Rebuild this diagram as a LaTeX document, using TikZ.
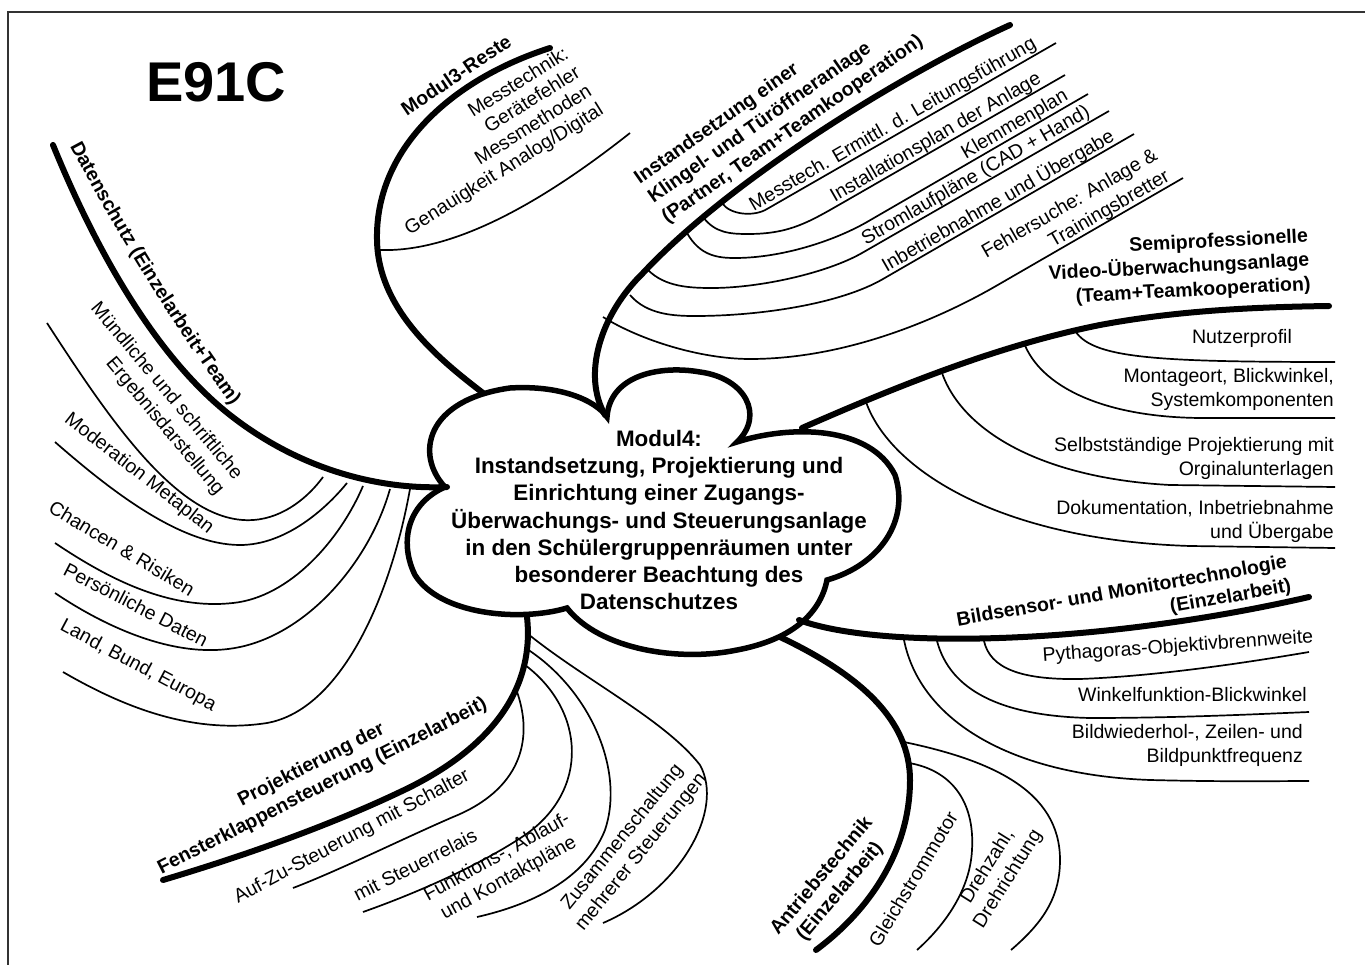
\documentclass[tikz,border=0pt]{standalone}
\usepackage{fontspec}
\setmainfont{Liberation Sans}
\usetikzlibrary{decorations.text}
\begin{document}
\begin{tikzpicture}[x=1pt,y=-1pt,
  branch/.style={line width=6pt,line cap=round},
  twig/.style={line width=1.7pt},
  lab/.style={font=\fontsize{19.5}{24}\selectfont,inner sep=0pt},
  blab/.style={font=\bfseries\fontsize{19.5}{24}\selectfont,inner sep=0pt},
]
\useasboundingbox (0,0) rectangle (1365,965);
\fill[white] (0,0) rectangle (1365,965);
\draw[line width=2.5pt,black!80] (8,975) -- (8,12) -- (1375,12);

% title
\node[font=\bfseries\fontsize{56}{60}\selectfont,inner sep=0pt,anchor=base west] (title) at (146,102) {E91C};

% central cloud
\draw[line width=5.5pt] (445,487) .. controls (415,455) and (425,400) .. (510,388)
  .. controls (560,385) and (595,400) .. (607,417)
  .. controls (610,375) and (660,365) .. (700,372)
  .. controls (745,378) and (765,415) .. (737,442)
  .. controls (790,425) and (870,425) .. (895,475)
  .. controls (910,520) and (880,565) .. (827,580)
  .. controls (820,615) and (790,640) .. (737,650)
  .. controls (680,662) and (600,650) .. (567,608)
  .. controls (520,622) and (440,615) .. (415,575)
  .. controls (400,545) and (405,505) .. (445,487) -- cycle;
\node[font=\bfseries\fontsize{22.4}{27.2}\selectfont,align=center,inner sep=0pt] (core) at (659,520)
 {Modul4:\\Instandsetzung, Projektierung und\\Einrichtung einer Zugangs-\\Überwachungs- und Steuerungsanlage\\in den Schülergruppenräumen unter\\besonderer Beachtung des\\Datenschutzes};

% ---------- Datenschutz
\coordinate (dsRoot) at (447,487);
\coordinate (dsTip) at (53,145);
\draw[branch] (dsTip) .. controls (100,260) and (160,360) .. (230,415) .. controls (300,470) and (380,490) .. (dsRoot);
\path[decorate,decoration={text along path,text align={left indent=0pt},
  text={|\bfseries\fontsize{19.5}{24}\selectfont|Datenschutz (Einzelarbeit+Team)}}]
  (70,146) .. controls (116.9,234.3) and (172.2,324.1) .. (231,405) -- (262,447);
\coordinate (dsa1) at (323,477); \coordinate (dse1) at (47,323);
\coordinate (dsa2) at (347,483); \coordinate (dse2) at (55,442);
\coordinate (dsa3) at (363,486); \coordinate (dse3) at (55,543);
\coordinate (dsa4) at (390,489); \coordinate (dse4) at (55,593);
\coordinate (dsa5) at (410,489); \coordinate (dse5) at (63,672);
\draw[twig] (dse1) .. controls (110,420) and (180,525) .. (253,520) .. controls (285,518) and (310,495) .. (dsa1);
\draw[twig] (dse2) .. controls (110,490) and (180,545) .. (240,545) .. controls (285,545) and (325,510) .. (dsa2);
\draw[twig] (dse3) .. controls (110,580) and (170,610) .. (233,603) .. controls (290,597) and (340,540) .. (dsa3);
\draw[twig] (dse4) .. controls (110,630) and (180,660) .. (240,647) .. controls (310,632) and (370,560) .. (dsa4);
\draw[twig] (dse5) .. controls (120,705) and (190,735) .. (267,723) .. controls (340,710) and (390,600) .. (dsa5);
\node[lab,rotate=-50,align=right] (ds1) at (157,399) {Mündliche und schriftliche\\Ergebnisdarstellung};
\node[lab,rotate=-38] (ds2) at (139,474) {Moderation Metaplan};
\node[lab,rotate=-31] (ds3) at (122,548) {Chancen \& Risiken};
\node[lab,rotate=-27.5] (ds4) at (136,605) {Persönliche Daten};
\node[lab,rotate=-28] (ds5) at (138,666) {Land, Bund, Europa};

% ---------- Modul3-Reste
\coordinate (m3Root) at (483,393);
\coordinate (m3Tip) at (550,48);
\draw[branch] (m3Tip) .. controls (450,80) and (375,150) .. (377,240) .. controls (378,310) and (440,360) .. (m3Root);
\coordinate (m3a) at (380,250); \coordinate (m3e) at (630,133);
\draw[twig] (m3a) .. controls (440,252) and (520,220) .. (m3e);
\node[blab,rotate=34] (m3L) at (456,75) {Modul3-Reste};
\node[lab,rotate=32,align=right,font=\fontsize{19.5}{22}\selectfont] (m3S) at (487,142) {Messtechnik:\\Gerätefehler\\Messmethoden\\Genauigkeit Analog/Digital};

% ---------- Instandsetzung
\coordinate (inRoot) at (605,415);
\coordinate (inTip) at (1010,25);
\draw[branch] (inTip) .. controls (900,75) and (730,180) .. (643,273) .. controls (600,315) and (582,375) .. (inRoot);
\node[blab,rotate=35,align=left] (inL) at (779,110) {Instandsetzung einer\\Klingel- und Türöffneranlage\\(Partner, Team+Teamkooperation)};
\coordinate (ina1) at (722,203); \coordinate (ine1) at (1056,43);
\coordinate (ina2) at (703,217); \coordinate (ine2) at (1065,75);
\coordinate (ina3) at (687,233); \coordinate (ine3) at (1088,94);
\coordinate (ina4) at (648,270); \coordinate (ine4) at (1109,111);
\coordinate (ina5) at (630,295); \coordinate (ine5) at (1134,134);
\coordinate (ina6) at (603,317); \coordinate (ine6) at (1183,178);
\draw[twig] (ina1) .. controls (730,215) and (754,217) .. (767,209) -- (ine1);
\draw[twig] (ina2) .. controls (715,233) and (730,234) .. (748,234) .. controls (790,234) and (809,222) .. (844,202) -- (ine2);
\draw[twig] (ina3) .. controls (700,256) and (718,258) .. (735,258) .. controls (780,258) and (832,242) .. (867,222) -- (ine3);
\draw[twig] (ina4) .. controls (665,287) and (690,288) .. (712,288) .. controls (760,288) and (827,273) .. (862,253) -- (ine4);
\draw[twig] (ina5) .. controls (647,315) and (675,316) .. (695,316) .. controls (760,316) and (840,304) .. (883,279) -- (ine5);
\draw[twig] (ina6) .. controls (640,340) and (700,359) .. (750,359) .. controls (850,359) and (944,316) .. (996,286) -- (ine6);
\node[lab,rotate=30] (in1) at (893,125) {Messtech. Ermittl. d. Leitungsführung};
\node[lab,rotate=30] (in2) at (936,138) {Installationsplan der Anlage};
\node[lab,rotate=30] (in3) at (1015,125) {Klemmenplan};
\node[lab,rotate=30] (in4) at (976,176) {Stromlaufpläne (CAD + Hand)};
\node[lab,rotate=30] (in5) at (998,201) {Inbetriebnahme und Übergabe};
\node[lab,rotate=30,align=right] (in6) at (1076,215) {Fehlersuche: Anlage \&\\Trainingsbretter};

% ---------- Video
\coordinate (vdRoot) at (802,428);
\coordinate (vdTip) at (1329,306);
\draw[branch] (vdRoot) .. controls (900,385) and (1000,345) .. (1100,325) .. controls (1180,310) and (1260,307) .. (vdTip);
\node[blab,rotate=3,align=right] (vdL) at (1179,268) {Semiprofessionelle\\Video-Überwachungsanlage\\(Team+Teamkooperation)};
\coordinate (vda1) at (1074,329); \coordinate (vde1) at (1335,362);
\coordinate (vda2) at (1024,343); \coordinate (vde2) at (1335,418);
\coordinate (vda3) at (941,370); \coordinate (vde3) at (1335,487);
\coordinate (vda4) at (866,402); \coordinate (vde4) at (1335,548);
\draw[twig] (vda1) .. controls (1090,358) and (1150,362) .. (vde1);
\draw[twig] (vda2) .. controls (1040,385) and (1100,417) .. (1200,418) -- (vde2);
\draw[twig] (vda3) .. controls (960,430) and (1040,478) .. (1170,485) -- (vde3);
\draw[twig] (vda4) .. controls (890,470) and (1000,540) .. (1190,546) -- (vde4);
\node[lab] (vd1) at (1242,338) {Nutzerprofil};
\node[lab,anchor=east,align=right] (vd2) at (1334,389) {Montageort, Blickwinkel,\\Systemkomponenten};
\node[lab,anchor=east,align=right] (vd3) at (1334,458) {Selbstständige Projektierung mit\\Orginalunterlagen};
\node[lab,anchor=east,align=right] (vd4) at (1334,521) {Dokumentation, Inbetriebnahme\\und Übergabe};

% ---------- Bildsensor
\coordinate (bsRoot) at (799,620);
\coordinate (bsTip) at (1309,597);
\draw[branch] (bsRoot) .. controls (880,650) and (1100,645) .. (bsTip);
\node[blab,rotate=10,align=right] (bsL) at (1124,604) {Bildsensor- und Monitortechnologie\\(Einzelarbeit)};
\coordinate (bsa1) at (984,641); \coordinate (bse1) at (1309,652);
\coordinate (bsa2) at (937,641); \coordinate (bse2) at (1309,712);
\coordinate (bsa3) at (904,640); \coordinate (bse3) at (1309,781);
\draw[twig] (bsa1) .. controls (990,668) and (1020,680) .. (1080,679) .. controls (1160,676) and (1250,662) .. (bse1);
\draw[twig] (bsa2) .. controls (950,690) and (1000,716) .. (1090,718) .. controls (1180,718) and (1260,714) .. (bse2);
\draw[twig] (bsa3) .. controls (920,720) and (1010,775) .. (1150,780) .. controls (1230,782) and (1280,781) .. (bse3);
\node[lab,rotate=4] (bs1) at (1178,647) {Pythagoras-Objektivbrennweite};
\node[lab,anchor=east] (bs2) at (1307,695) {Winkelfunktion-Blickwinkel};
\node[lab,anchor=east,align=right] (bs3) at (1303,745) {Bildwiederhol-, Zeilen- und\\Bildpunktfrequenz};

% ---------- Antriebstechnik
\coordinate (atRoot) at (780,637);
\coordinate (atTip) at (816,950);
\draw[branch] (atRoot) .. controls (860,675) and (910,720) .. (910,780) .. controls (910,850) and (870,910) .. (atTip);
\node[blab,rotate=50,align=center] (atL) at (831,884) {Antriebstechnik\\(Einzelarbeit)};
\coordinate (ata1) at (909,763); \coordinate (ate1) at (917,950);
\coordinate (ata2) at (904,742); \coordinate (ate2) at (1011,950);
\draw[twig] (ata1) .. controls (950,770) and (975,800) .. (972,850) .. controls (970,890) and (945,925) .. (ate1);
\draw[twig] (ata2) .. controls (990,760) and (1060,790) .. (1060,860) .. controls (1060,900) and (1040,925) .. (ate2);
\node[lab,rotate=59] (at1) at (913,879) {Gleichstrommotor};
\node[lab,rotate=58,align=center] (at2) at (998,873) {Drehzahl,\\Drehrichtung};

% ---------- Fensterklappen
\coordinate (fkRoot) at (527,617);
\coordinate (fkTip) at (163,880);
\draw[branch] (fkRoot) .. controls (535,690) and (490,750) .. (400,792) .. controls (320,830) and (230,860) .. (fkTip);
\node[blab,rotate=27,align=center] (fkL) at (317,776) {Projektierung der\\Fensterklappensteuerung (Einzelarbeit)};
\coordinate (fka1) at (516,689); \coordinate (fke1) at (293,888);
\coordinate (fka2) at (525,665); \coordinate (fke2) at (363,912);
\coordinate (fka3) at (527,649); \coordinate (fke3) at (477,917);
\coordinate (fka4) at (528,634); \coordinate (fke4) at (603,923);
\draw[twig] (fka1) .. controls (535,740) and (520,790) .. (453,817) .. controls (400,840) and (340,870) .. (fke1);
\draw[twig] (fka2) .. controls (585,710) and (590,790) .. (525,835) .. controls (485,862) and (425,890) .. (fke2);
\draw[twig] (fka3) .. controls (590,690) and (625,770) .. (605,830) .. controls (585,880) and (530,905) .. (fke3);
\draw[twig] (fka4) .. controls (585,680) and (665,720) .. (700,765) .. controls (725,810) and (680,890) .. (fke4);
\node[lab,rotate=28] (fk1) at (352,837) {Auf-Zu-Steuerung mit Schalter};
\node[lab,rotate=27] (fk2) at (415,865) {mit Steuerrelais};
\node[lab,rotate=29,align=center] (fk3) at (503,868) {Funktions-, Ablauf-\\und Kontaktpläne};
\node[lab,rotate=51,align=center] (fk4) at (632,845) {Zusammenschaltung\\mehrerer Steuerungen};
\end{tikzpicture}
\end{document}
